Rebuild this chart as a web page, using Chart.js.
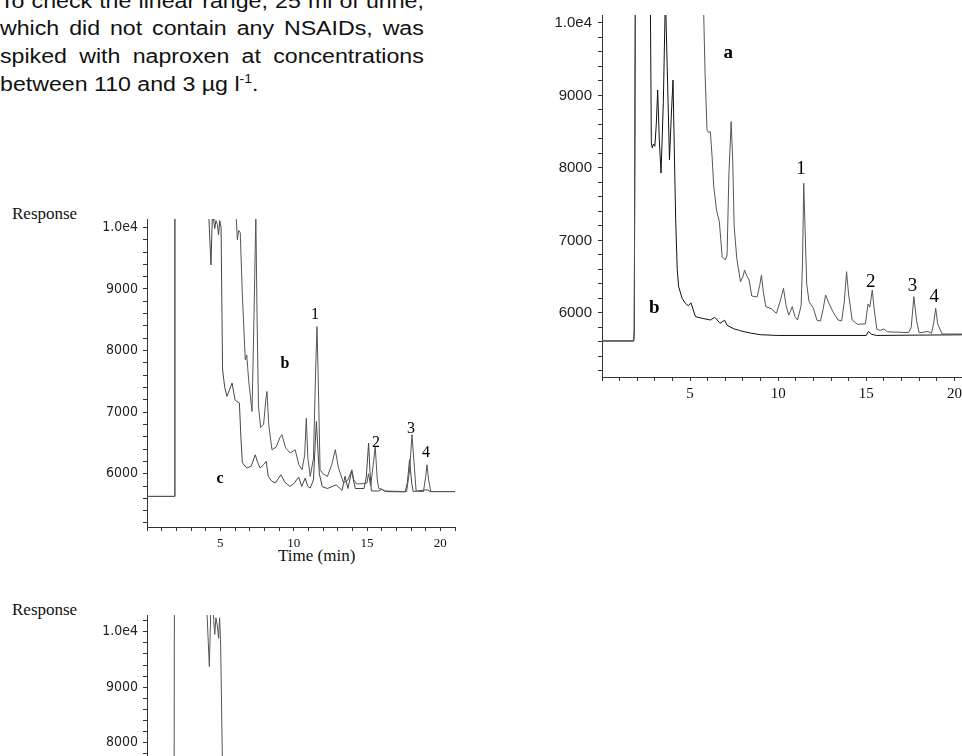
<!DOCTYPE html>
<html>
<head>
<meta charset="utf-8">
<script src="https://cdn.jsdelivr.net/npm/chart.js@4.4.0/dist/chart.umd.min.js"></script>
<style>
  html, body { margin:0; padding:0; background:#fff; width:962px; height:756px; overflow:hidden; }
  body { position:relative; }
  canvas { position:absolute; }
  .para { position:absolute; left:0; top:-12.5px; width:366px; font-family:'Liberation Sans', Arial, sans-serif; font-size:20px; line-height:27.7px; color:#111; transform:scaleX(1.158); transform-origin:0 0; }
  .para div { text-align:justify; text-align-last:justify; white-space:nowrap; }
  .para div.last { text-align:left; text-align-last:left; }
  .lbl { position:absolute; font-family:'Liberation Serif', 'Times New Roman', serif; font-size:17px; line-height:17px; color:#111; white-space:nowrap; }
</style>
</head>
<body>
<div class="para">
  <div>To check the linear range, 25 ml of urine,</div>
  <div>which did not contain any NSAIDs, was</div>
  <div>spiked with naproxen at concentrations</div>
  <div class="last">between 110 and 3 µg l<sup style="font-size:12px;line-height:0;vertical-align:8px">-1</sup>.</div>
</div>
<div class="lbl" style="left:12px;top:205px">Response</div>
<div class="lbl" style="left:278px;top:547px">Time (min)</div>
<div class="lbl" style="left:12px;top:601px">Response</div>
<canvas id="cTop" width="450" height="410" style="left:530px;top:0px"></canvas>
<canvas id="cMid" width="410" height="370" style="left:60px;top:200px"></canvas>
<canvas id="cBot" width="410" height="350" style="left:60px;top:595px"></canvas>
<script>
// ---------- data (time in min, response) ----------
const topTraceA = [[0,5614],[1.8,5614],[1.83,5750],[1.9,11000],[5.7,11000],[5.77,10150],[5.85,9300],[5.96,8524],[6.05,8490],[6.15,8500],[6.25,8150],[6.34,7750],[6.5,7420],[6.66,7260],[6.82,6776],[7.0,6731],[7.1,6800],[7.2,7900],[7.33,8640],[7.42,8100],[7.5,7200],[7.65,6750],[7.86,6432],[8.0,6500],[8.09,6593],[8.2,6520],[8.35,6455],[8.5,6234],[8.8,6220],[8.95,6380],[9.05,6524],[9.15,6300],[9.3,6087],[9.6,6060],[9.9,5995],[10.1,6150],[10.3,6340],[10.45,6100],[10.6,5970],[10.8,6087],[10.95,5950],[11.1,5903],[11.3,6100],[11.38,6700],[11.45,7789],[11.52,7200],[11.62,6400],[11.75,6156],[12.0,6065],[12.2,5900],[12.4,5890],[12.55,6050],[12.69,6248],[12.85,6150],[13.1,6020],[13.4,5903],[13.6,5890],[13.75,6150],[13.88,6570],[14.0,6250],[14.2,5903],[14.5,5844],[14.95,5850],[15.1,6124],[15.2,6080],[15.34,6317],[15.45,6050],[15.6,5775],[15.8,5760],[16.0,5780],[16.2,5740],[17.4,5730],[17.55,5800],[17.7,6225],[17.85,5900],[18.0,5725],[18.5,5745],[18.7,5720],[18.82,5850],[18.94,6065],[19.05,5850],[19.3,5710],[21,5710]];
const topTraceB = [[0,5614],[1.8,5614],[1.83,5750],[1.9,11000],[2.7,11000],[2.75,10150],[2.8,8344],[2.85,8280],[2.92,8330],[3.0,8300],[3.08,8600],[3.16,9075],[3.25,8400],[3.35,7930],[3.48,8900],[3.6,10400],[3.7,9400],[3.83,8110],[3.93,8700],[4.03,9213],[4.1,8300],[4.18,7300],[4.27,6600],[4.35,6363],[4.55,6200],[4.73,6134],[4.9,6100],[5.05,6140],[5.3,5950],[5.68,5927],[6.15,5903],[6.4,5940],[6.7,5858],[6.96,5900],[7.1,5830],[7.5,5780],[7.8,5760],[8.0,5745],[8.5,5720],[9.0,5700],[10.0,5690],[15.0,5690],[15.12,5745],[15.3,5705],[15.6,5690],[18.0,5695],[21,5700]];
const midTraceB = [[0,5632],[1.85,5632],[1.9,11000],[6.02,11000],[6.09,10140],[6.16,9798],[6.25,9950],[6.36,9911],[6.5,8900],[6.7,7850],[6.8,7930],[6.93,7525],[7.16,7011],[7.3,8600],[7.42,10200],[7.5,8600],[7.6,7100],[7.75,6750],[7.95,6800],[8.1,7200],[8.18,7336],[8.3,6800],[8.52,6390],[8.8,6430],[9.05,6580],[9.2,6633],[9.45,6420],[9.77,6336],[10.1,6390],[10.35,6150],[10.57,6065],[10.75,6300],[10.86,6900],[10.97,6250],[11.13,5956],[11.35,6250],[11.5,7700],[11.59,8390],[11.67,7600],[11.8,6065],[12.0,6000],[12.3,5956],[12.6,6150],[12.84,6390],[13.05,6100],[13.4,5850],[13.7,5900],[13.97,6065],[14.1,5900],[14.3,5833],[14.75,5840],[15.0,5850],[15.1,6000],[15.25,5800],[15.45,6200],[15.56,6443],[15.7,5900],[15.8,5760],[16.0,5750],[16.2,5720],[17.7,5710],[17.9,6050],[18.07,6633],[18.2,6200],[18.35,5720],[18.85,5710],[19.0,5950],[19.09,6146],[19.2,5900],[19.35,5710],[21,5710]];
const midTraceC = [[0,5632],[1.85,5632],[1.9,11000],[4.15,11000],[4.22,10150],[4.36,9390],[4.45,10150],[4.5,11000],[4.55,10110],[4.62,9980],[4.7,10110],[4.8,10050],[4.88,9880],[4.96,10110],[5.05,10000],[5.15,7700],[5.3,7400],[5.45,7255],[5.6,7350],[5.8,7472],[6.0,7200],[6.13,7173],[6.3,7150],[6.4,6600],[6.5,6180],[6.8,6092],[7.1,6120],[7.38,6308],[7.55,6180],[7.72,6092],[7.95,6150],[8.13,6200],[8.27,5956],[8.5,5880],[8.75,5849],[9.13,5984],[9.4,5860],[9.75,5794],[10.05,5850],[10.34,5946],[10.55,5794],[10.79,5930],[10.95,5800],[11.13,5767],[11.35,5900],[11.45,6400],[11.55,6850],[11.65,6400],[11.75,6000],[11.95,5790],[12.3,5760],[12.9,5820],[13.3,5730],[13.5,5960],[13.7,5760],[13.95,6040],[14.2,5760],[14.8,5760],[14.95,5950],[15.11,6498],[15.2,6050],[15.3,5720],[15.8,5720],[16.0,5745],[16.3,5710],[17.6,5705],[17.75,5850],[17.9,6227],[18.05,5850],[18.15,5710],[19.1,5740],[19.3,5710],[21,5710]];
const botTrace = [[0,5632],[1.84,5632],[1.87,11000],[4.0,11000],[4.08,10400],[4.25,9371],[4.35,10400],[4.45,11000],[4.55,10200],[4.62,9950],[4.7,10250],[4.8,10100],[4.88,9880],[4.95,10250],[5.02,9780],[5.15,7500],[5.4,7250],[5.8,7450],[6.1,7150],[6.3,7100],[6.5,6200],[7.0,6100],[8.0,6150],[9.0,5950],[10.0,5850],[12.0,5760],[15.0,5760],[21,5710]];

// ---------- ticks ----------
const xTickValues = [0,1,2,3,4,5,6,7,8,9,10,11,12,13,14,15,16,17,18,19,20,21];
const xLabelValues = [5,10,15,20];
const yTickValues = [5200,5400,5600,5800,6000,6200,6400,6600,6800,7000,7200,7400,7600,7800,8000,8200,8400,8600,8800,9000,9200,9400,9600,9800,10000];
const yTickValuesBot = [5200,5400,5600,5800,6000,6200,6400,6600,6800,7000,7200,7400,7600,7800,8000,8200,8400,8600,8800,9000,9200,9400,9600,9800,10000,10200];
const yLabelValues = [6000,7000,8000,9000,10000];
const yLabelTexts = ['6000','7000','8000','9000','1.0e4'];

// ---------- annotations (time, response) ----------
const topLabels = [
  {text:'a', t:7.17, r:9585, bold:true},
  {text:'1', t:11.3, r:7986},
  {text:'2', t:15.25, r:6432},
  {text:'3', t:17.63, r:6372},
  {text:'4', t:18.86, r:6225},
  {text:'b', t:2.97, r:6065, bold:true}
];
const midLabels = [
  {text:'1', t:11.45, r:8580},
  {text:'2', t:15.61, r:6503},
  {text:'3', t:18.0, r:6730},
  {text:'4', t:19.02, r:6341},
  {text:'b', t:9.41, r:7785, bold:true},
  {text:'c', t:4.98, r:5919, bold:true}
];

const peakLabels = {
  id: 'peakLabels',
  afterDatasetsDraw(chart, args, opts) {
    const ctx = chart.ctx, xs = chart.scales.x, ys = chart.scales.y;
    (opts.items || []).forEach(it => {
      ctx.save();
      ctx.font = (it.bold ? 'bold ' : '') + opts.size + "px 'Liberation Serif', 'Times New Roman', serif";
      ctx.fillStyle = '#000';
      ctx.textAlign = 'center';
      ctx.textBaseline = 'middle';
      ctx.fillText(it.text, xs.getPixelForValue(it.t), ys.getPixelForValue(it.r));
      ctx.restore();
    });
  }
};

function pts(arr) { return arr.map(p => ({x: p[0], y: p[1]})); }

function makeChart(id, o) {
  return new Chart(document.getElementById(id), {
    type: 'line',
    data: { datasets: o.series.map(s => ({
      data: pts(s.data), borderColor: s.color, borderWidth: 1, pointRadius: 0,
      fill: false, tension: 0
    })) },
    options: {
      responsive: false, animation: false, events: [],
      layout: { padding: { top: o.padTop, right: o.padRight, left: 0, bottom: 0 } },
      plugins: { legend: { display: false }, tooltip: { enabled: false },
                 peakLabels: { items: o.labels, size: o.labelSize } },
      scales: {
        x: {
          type: 'linear', min: 0, max: 21,
          afterBuildTicks: s => { s.ticks = xTickValues.map(v => ({value: v})); },
          afterFit: s => { s.height = o.xh; },
          grid: { drawOnChartArea: false, drawTicks: true, tickLength: 4, color: '#333' },
          border: { color: '#333', width: 1 },
          ticks: { autoSkip: false, maxRotation: 0, minRotation: 0, padding: o.xPad, color: '#111',
                   font: { family: "'Liberation Serif', 'Times New Roman', serif", size: o.xFont },
                   callback: v => xLabelValues.includes(v) ? String(v) : '' }
        },
        y: {
          type: 'linear', min: o.yMin, max: o.yMax,
          afterBuildTicks: s => { s.ticks = o.yTicks.map(v => ({value: v})); },
          afterFit: s => { s.width = o.yw; },
          grid: { drawOnChartArea: false, drawTicks: true, tickLength: 4, color: '#333' },
          border: { color: '#333', width: 1 },
          ticks: { autoSkip: false, padding: o.yPad, color: '#222',
                   font: { family: o.yFamily, size: o.yFont },
                   callback: v => { const i = yLabelValues.indexOf(v); return i >= 0 ? yLabelTexts[i] : ''; } }
        }
      }
    },
    plugins: [peakLabels]
  });
}

makeChart('cTop', {
  series: [{data: topTraceA, color: '#555'}, {data: topTraceB, color: '#111'}],
  labels: topLabels, labelSize: 19,
  padTop: 15, padRight: 8, xh: 33, yw: 72,
  yMin: 5117, yMax: 10110, yTicks: yTickValues,
  xFont: 15, xPad: 4, yFont: 15, yPad: 6, yFamily: "'Liberation Sans', Arial, sans-serif"
});
makeChart('cMid', {
  series: [{data: midTraceB, color: '#555'}, {data: midTraceC, color: '#444'}],
  labels: midLabels, labelSize: 16,
  padTop: 19, padRight: 15, xh: 43, yw: 87,
  yMin: 5135, yMax: 10136, yTicks: yTickValues,
  xFont: 13, xPad: 5, yFont: 14, yPad: 5, yFamily: "'Liberation Sans Narrow', 'DejaVu Sans Condensed', 'Liberation Sans', sans-serif"
});
makeChart('cBot', {
  series: [{data: botTrace, color: '#555'}],
  labels: [], labelSize: 16,
  padTop: 20, padRight: 15, xh: 43, yw: 87,
  yMin: 5135, yMax: 10300, yTicks: yTickValuesBot,
  xFont: 13, xPad: 5, yFont: 14, yPad: 5, yFamily: "'Liberation Sans Narrow', 'DejaVu Sans Condensed', 'Liberation Sans', sans-serif"
});
</script>
</body>
</html>
